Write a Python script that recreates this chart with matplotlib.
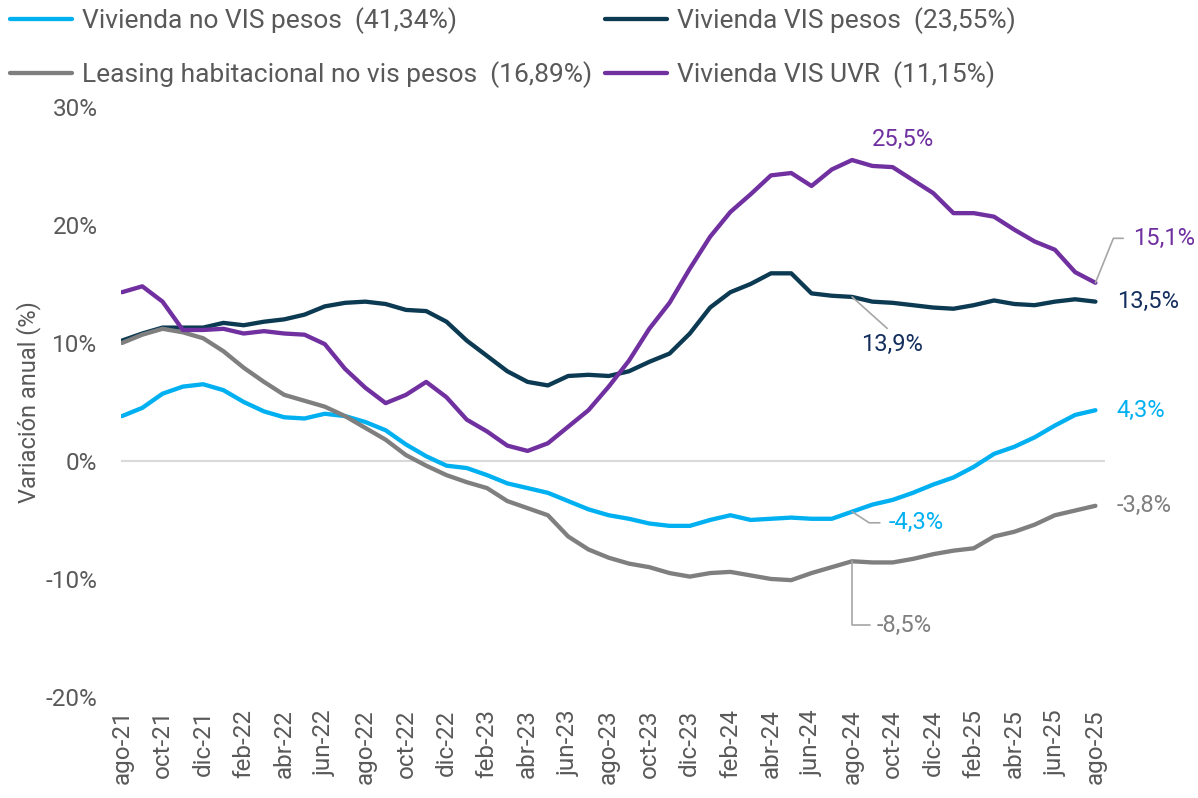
import matplotlib
matplotlib.use("Agg")
import matplotlib.pyplot as plt
from matplotlib.ticker import FuncFormatter

plt.rcParams['font.family'] = ['Roboto', 'DejaVu Sans']

months = ["ago-21", "sep-21", "oct-21", "nov-21", "dic-21",
          "ene-22", "feb-22", "mar-22", "abr-22", "may-22", "jun-22", "jul-22", "ago-22", "sep-22", "oct-22", "nov-22", "dic-22",
          "ene-23", "feb-23", "mar-23", "abr-23", "may-23", "jun-23", "jul-23", "ago-23", "sep-23", "oct-23", "nov-23", "dic-23",
          "ene-24", "feb-24", "mar-24", "abr-24", "may-24", "jun-24", "jul-24", "ago-24", "sep-24", "oct-24", "nov-24", "dic-24",
          "ene-25", "feb-25", "mar-25", "abr-25", "may-25", "jun-25", "jul-25", "ago-25"]

no_vis_pesos = [3.8, 4.5, 5.7, 6.3, 6.5, 6.0, 5.0, 4.2, 3.7, 3.6, 4.0, 3.8, 3.3, 2.6, 1.4, 0.4, -0.4,
                -0.6, -1.2, -1.9, -2.3, -2.7, -3.4, -4.1, -4.6, -4.9, -5.3, -5.5, -5.5,
                -5.0, -4.6, -5.0, -4.9, -4.8, -4.9, -4.9, -4.3, -3.7, -3.3, -2.7, -2.0,
                -1.4, -0.5, 0.6, 1.2, 2.0, 3.0, 3.9, 4.3]
vis_pesos = [10.2, 10.8, 11.3, 11.3, 11.3, 11.7, 11.5, 11.8, 12.0, 12.4, 13.1, 13.4, 13.5, 13.3, 12.8, 12.7, 11.8,
             10.2, 8.9, 7.6, 6.7, 6.4, 7.2, 7.3, 7.2, 7.6, 8.4, 9.1, 10.8,
             13.0, 14.3, 15.0, 15.9, 15.9, 14.2, 14.0, 13.9, 13.5, 13.4, 13.2, 13.0,
             12.9, 13.2, 13.6, 13.3, 13.2, 13.5, 13.7, 13.5]
leasing_no_vis = [10.0, 10.7, 11.2, 10.9, 10.4, 9.3, 7.9, 6.7, 5.6, 5.1, 4.6, 3.8, 2.8, 1.8, 0.5, -0.4, -1.2,
                  -1.8, -2.3, -3.4, -4.0, -4.6, -6.4, -7.5, -8.2, -8.7, -9.0, -9.5, -9.8,
                  -9.5, -9.4, -9.7, -10.0, -10.1, -9.5, -9.0, -8.5, -8.6, -8.6, -8.3, -7.9,
                  -7.6, -7.4, -6.4, -6.0, -5.4, -4.6, -4.2, -3.8]
vis_uvr = [14.3, 14.8, 13.5, 11.1, 11.1, 11.2, 10.8, 11.0, 10.8, 10.7, 9.9, 7.8, 6.2, 4.9, 5.6, 6.7, 5.4,
           3.5, 2.5, 1.3, 0.85, 1.5, 2.9, 4.3, 6.3, 8.5, 11.2, 13.4, 16.3,
           19.0, 21.1, 22.6, 24.2, 24.4, 23.3, 24.7, 25.5, 25.0, 24.9, 23.8, 22.7,
           21.0, 21.0, 20.7, 19.6, 18.6, 17.9, 16.0, 15.1]

labels = ["Vivienda no VIS pesos  (41,34%)", "Vivienda VIS pesos  (23,55%)",
          "Leasing habitacional no vis pesos  (16,89%)", "Vivienda VIS UVR  (11,15%)"]
yticks = [-20, -10, 0, 10, 20, 30]

c_blue = "#00B0F0"
c_navy = "#0B3A52"
c_gray = "#7F7F7F"
c_purple = "#7030A0"
c_navy_txt = "#142F5E"
c_text = "#595959"
c_lead = "#A6A6A6"

fig = plt.figure(figsize=(11.98, 7.98), dpi=100)
ax = fig.add_axes([0.101, 0.1266, 0.821, 0.7394])

x = list(range(len(months)))
lw = 3.1
kw = dict(lw=lw, solid_joinstyle='round', solid_capstyle='round', zorder=3)
l1, = ax.plot(x, no_vis_pesos, color=c_blue, **kw)
l2, = ax.plot(x, vis_pesos, color=c_navy, **kw)
l3, = ax.plot(x, leasing_no_vis, color=c_gray, **kw)
l4, = ax.plot(x, vis_uvr, color=c_purple, **kw)

ax.axhline(0, color="#D9D9D9", lw=1.5, zorder=1)

ax.set_xlim(-0.05, 48.45)
ax.set_ylim(-20, 30)
ax.set_yticks(yticks)
ax.yaxis.set_major_formatter(FuncFormatter(lambda v, p: f"{v:.0f}%"))
ax.set_xticks(x[::2])
ax.set_xticklabels(months[::2], rotation=90, fontsize=17.5, color=c_text)
ax.tick_params(axis='x', length=0, pad=9)
ax.tick_params(axis='y', length=0, pad=17, labelsize=17.5, labelcolor=c_text)
for s in ax.spines.values():
    s.set_visible(False)
ax.set_ylabel("Variación anual (%)", fontsize=17, color=c_text, labelpad=3)

# legend rows: (no VIS, VIS pesos) / (leasing, VIS UVR); matplotlib fills column-wise
fig.legend([l1, l3, l2, l4], [labels[0], labels[2], labels[1], labels[3]],
           loc='upper left', bbox_to_anchor=(10 / 1198, 1 - 7 / 798), ncol=2,
           frameon=False, fontsize=19, labelcolor=c_text, handlelength=2.35, handletextpad=0.38,
           columnspacing=0.5, labelspacing=1.05, borderpad=0, borderaxespad=0)

i = 36
last = len(months) - 1
fs = 17
lead = dict(arrowstyle='-', color=c_lead, lw=1.2, shrinkB=0)
ax.annotate("25,5%", xy=(i, vis_uvr[i]), xytext=(37, 15), textcoords='offset points',
            ha='center', va='center', color=c_purple, fontsize=fs)
ax.annotate("13,9%", xy=(i, vis_pesos[i]), xytext=(29, -26), textcoords='offset points',
            ha='center', va='top', color=c_navy_txt, fontsize=fs,
            arrowprops=dict(shrinkA=2, relpos=(0.5, 1.0), **lead))
ax.annotate("-4,3%", xy=(i, no_vis_pesos[i]), xytext=(26, -8), textcoords='offset points',
            ha='left', va='center', color=c_blue, fontsize=fs,
            arrowprops=dict(shrinkA=4, relpos=(0, 0.5),
                            connectionstyle="angle,angleA=0,angleB=-33,rad=0", **lead))
ax.annotate("-8,5%", xy=(i, leasing_no_vis[i]), xytext=(18, -46), textcoords='offset points',
            ha='left', va='center', color=c_gray, fontsize=fs,
            arrowprops=dict(shrinkA=3, relpos=(0, 0.5),
                            connectionstyle="angle,angleA=0,angleB=90,rad=0", **lead))
ax.annotate("15,1%", xy=(last, vis_uvr[last]), xytext=(27, 32), textcoords='offset points',
            ha='left', va='center', color=c_purple, fontsize=fs,
            arrowprops=dict(shrinkA=5, relpos=(0, 0.5),
                            connectionstyle="angle,angleA=0,angleB=68,rad=0", **lead))
ax.annotate("13,5%", xy=(last, vis_pesos[last]), xytext=(15.5, 0), textcoords='offset points',
            ha='left', va='center', color=c_navy_txt, fontsize=fs)
ax.annotate("4,3%", xy=(last, no_vis_pesos[last]), xytext=(15, 0), textcoords='offset points',
            ha='left', va='center', color=c_blue, fontsize=fs)
ax.annotate("-3,8%", xy=(last, leasing_no_vis[last]), xytext=(15, 0), textcoords='offset points',
            ha='left', va='center', color=c_gray, fontsize=fs)

fig.savefig("out.png", dpi=100)
